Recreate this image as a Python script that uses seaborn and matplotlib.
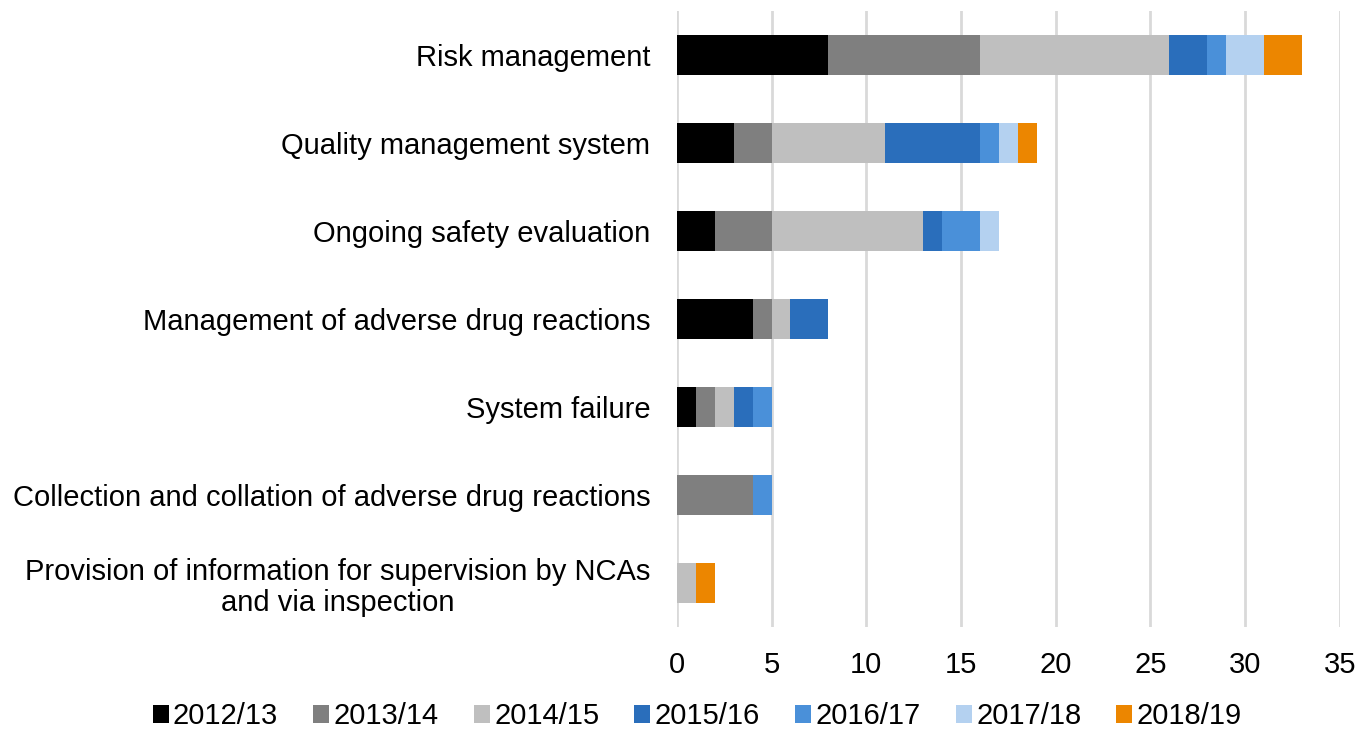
import seaborn as sns
import matplotlib.pyplot as plt
import numpy as np
import pandas as pd
from matplotlib.patches import Patch

categories = [
    "Risk management",
    "Quality management system",
    "Ongoing safety evaluation",
    "Management of adverse drug reactions",
    "System failure",
    "Collection and collation of adverse drug reactions",
    "Provision of information for supervision by NCAs\nand via inspection",
]
years = ["2012/13", "2013/14", "2014/15", "2015/16", "2016/17", "2017/18", "2018/19"]
y2012 = [8, 3, 2, 4, 1, 0, 0]
y2013 = [8, 2, 3, 1, 1, 4, 0]
y2014 = [10, 6, 8, 1, 1, 0, 1]
y2015 = [2, 5, 1, 2, 1, 0, 0]
y2016 = [1, 1, 2, 0, 1, 1, 0]
y2017 = [2, 1, 1, 0, 0, 0, 0]
y2018 = [2, 1, 0, 0, 0, 0, 1]
colors = ["#000000", "#7f7f7f", "#bfbfbf", "#2a6ebb", "#4a90d9", "#b4d1f0", "#ec8600"]

plt.rcParams["font.family"] = ["Liberation Sans", "DejaVu Sans"]

df = pd.DataFrame(
    {"category": categories, "2012/13": y2012, "2013/14": y2013, "2014/15": y2014,
     "2015/16": y2015, "2016/17": y2016, "2017/18": y2017, "2018/19": y2018}
)
cum = df[years].cumsum(axis=1)

fig, ax = plt.subplots(figsize=(13.59, 7.31), dpi=100)
fig.subplots_adjust(left=0.498, right=0.986, top=0.985, bottom=0.142)

# draw cumulative totals from the last year back, so earlier years sit on top
for yr, col in reversed(list(zip(years, colors))):
    sns.barplot(x=cum[yr], y=df["category"], color=col, orient="h",
                width=0.45, saturation=1, ax=ax, linewidth=0)

ax.set_xlim(0, 35)
ax.set_xticks(range(0, 36, 5))
ax.xaxis.grid(True, color="#d9d9d9", linewidth=2)
ax.set_axisbelow(True)
ax.set_xlabel("")
ax.set_ylabel("")
for s in ax.spines.values():
    s.set_visible(False)
ax.tick_params(axis="both", length=0, labelsize=21, colors="#000000")
ax.tick_params(axis="x", pad=17)
ax.tick_params(axis="y", pad=19)
for lab in ax.get_yticklabels():
    lab.set_multialignment("center")
    lab.set_linespacing(1.15)

handles = [Patch(facecolor=c, label=y) for c, y in zip(colors, years)]
fig.legend(handles=handles, loc="lower center", ncol=7, frameon=False,
           fontsize=21, bbox_to_anchor=(0.513, -0.035), handlelength=0.55,
           handleheight=0.55, handletextpad=0.15, columnspacing=1.2)

fig.savefig("out.png", dpi=100)
